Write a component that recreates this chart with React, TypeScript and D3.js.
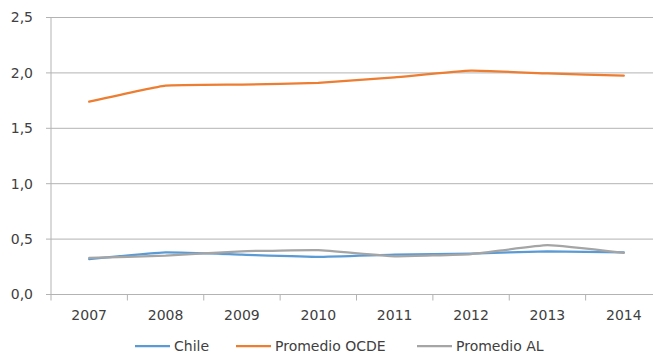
import React from "react";
import * as d3 from "d3";

const years = ["2007", "2008", "2009", "2010", "2011", "2012", "2013", "2014"];
const chile = [0.32, 0.38, 0.36, 0.34, 0.36, 0.37, 0.39, 0.38];
const ocde = [1.74, 1.885, 1.895, 1.91, 1.96, 2.02, 1.995, 1.975];
const al = [0.33, 0.35, 0.39, 0.40, 0.345, 0.365, 0.445, 0.375];
const yTicks = [0, 0.5, 1.0, 1.5, 2.0, 2.5];

const seriesList = [
  { name: "Chile", values: chile, color: "#5B9BD5" },
  { name: "Promedio OCDE", values: ocde, color: "#ED7D31" },
  { name: "Promedio AL", values: al, color: "#A5A5A5" },
];

const W = 653;
const H = 353;
const left = 51;
const right = 662;
const top = 17.5;
const bottom = 294.5;
const font = "'DejaVu Sans', Verdana, sans-serif";
const textColor = "#404040";

export default function App() {
  const x = d3.scaleBand().domain(years).range([left, right]);
  const y = d3.scaleLinear().domain([0, 2.5]).range([bottom, top]);
  const line = d3
    .line<number>()
    .x((_, i) => (x(years[i]) as number) + x.bandwidth() / 2)
    .y((v) => y(v))
    .curve(d3.curveCardinal.tension(0.65));

  const legendX = [135, 236, 417];

  return (
    <svg width={W} height={H} style={{ position: "absolute", left: 0, top: 0, background: "#fff" }}>
      {yTicks.map((t) => (
        <g key={t}>
          <line x1={left - 5} x2={W} y1={y(t)} y2={y(t)} stroke="#b3b3b3" strokeWidth={1} />
          <text x={33} y={y(t)} dy="0.35em" textAnchor="end" fontFamily={font} fontSize={14} fill={textColor}>
            {d3.format(".1f")(t).replace(".", ",")}
          </text>
        </g>
      ))}
      <line x1={left} x2={left} y1={top} y2={bottom} stroke="#b3b3b3" strokeWidth={1} />
      {years.map((yr) => (
        <g key={yr}>
          <line
            x1={x(yr) as number}
            x2={x(yr) as number}
            y1={bottom}
            y2={bottom + 6}
            stroke="#b3b3b3"
          />
          <text
            x={(x(yr) as number) + x.bandwidth() / 2}
            y={320}
            textAnchor="middle"
            fontFamily={font}
            fontSize={14}
            fill={textColor}
          >
            {yr}
          </text>
        </g>
      ))}
      {seriesList.map((s) => (
        <path key={s.name} d={line(s.values) as string} fill="none" stroke={s.color} strokeWidth={2.25} strokeLinecap="round" />
      ))}
      {seriesList.map((s, i) => (
        <g key={s.name}>
          <line x1={legendX[i]} x2={legendX[i] + 35} y1={346} y2={346} stroke={s.color} strokeWidth={2.25} />
          <text x={legendX[i] + 39} y={346} dy="0.35em" fontFamily={font} fontSize={14} fill={textColor}>
            {s.name}
          </text>
        </g>
      ))}
    </svg>
  );
}
